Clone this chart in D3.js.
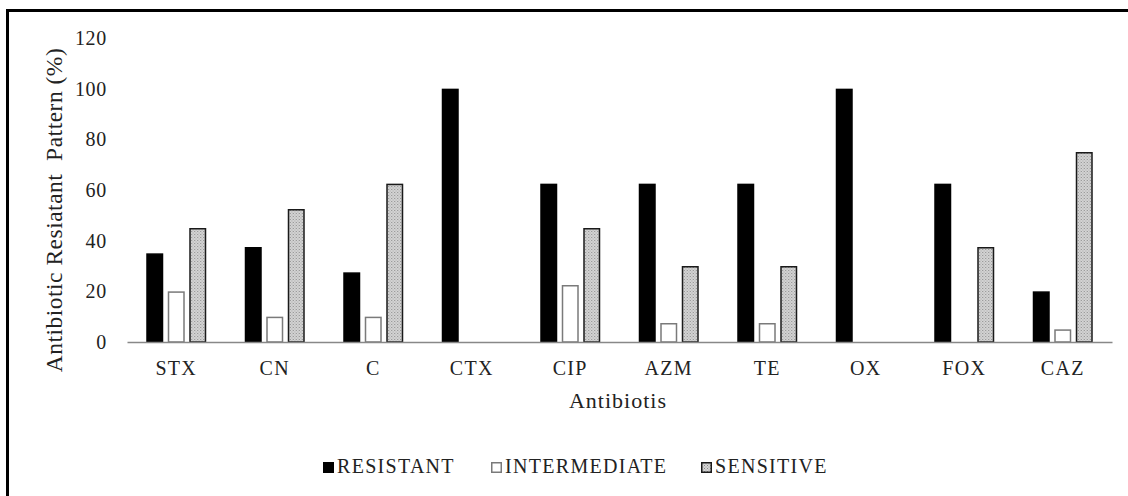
<!DOCTYPE html>
<html>
<head>
<meta charset="utf-8">
<script src="https://cdn.jsdelivr.net/npm/d3@7"></script>
<style>
  body { margin: 0; background: #fff; }
  svg text { font-family: "Liberation Serif", "Times New Roman", Tinos, "DejaVu Serif", serif; fill: #222; }
</style>
</head>
<body>
<svg id="chart" width="1128" height="496"></svg>
<script>
// data
var antibiotics = ["STX", "CN", "C", "CTX", "CIP", "AZM", "TE", "OX", "FOX", "CAZ"];
var resistant    = [35, 37.5, 27.5, 100, 62.5, 62.5, 62.5, 100, 62.5, 20];
var intermediate = [20, 10, 10, 0, 22.5, 7.5, 7.5, 0, 0, 5];
var sensitive    = [45, 52.5, 62.5, 0, 45, 30, 30, 0, 37.5, 75];
var seriesNames  = ["RESISTANT", "INTERMEDIATE", "SENSITIVE"];
var yTicks = [0, 20, 40, 60, 80, 100, 120];

var svg = d3.select("#chart");

// dotted grey pattern used for the sensitive bars
var defs = svg.append("defs");
var pat = defs.append("pattern").attr("id", "dots")
  .attr("patternUnits", "userSpaceOnUse").attr("width", 3).attr("height", 3);
pat.append("rect").attr("width", 3).attr("height", 3).attr("fill", "#d6d6d6");
pat.append("rect").attr("width", 1).attr("height", 1).attr("fill", "#888");
pat.append("rect").attr("x", 1.5).attr("y", 1.5).attr("width", 1).attr("height", 1).attr("fill", "#999");

// frame, only left and top edges show
svg.append("path").attr("d", "M7.5,496 V10.5 H1128")
  .attr("fill", "none").attr("stroke", "#000").attr("stroke-width", 3);

var margin = {left: 127, right: 1112, top: 38, bottom: 342};

var x = d3.scaleBand().domain(antibiotics).range([margin.left, margin.right]);
var y = d3.scaleLinear().domain([0, 120]).range([margin.bottom, margin.top]);

var barW = 17, gap = 4.5;

var table = antibiotics.map(function(a, i) {
  return {name: a, values: [resistant[i], intermediate[i], sensitive[i]]};
});

var styles = [
  {fill: "#000", stroke: "#000"},
  {fill: "#fff", stroke: "#7a7a7a"},
  {fill: "url(#dots)", stroke: "#1a1a1a"}
];

// bars
var groups = svg.append("g").selectAll("g").data(table).enter().append("g")
  .attr("transform", function(d) { return "translate(" + (x(d.name) + x.bandwidth() / 2) + ",0)"; });

groups.each(function(d) {
  var g = d3.select(this);
  d.values.forEach(function(v, j) {
    if (v <= 0) return;
    var offset = (j - 1) * (barW + gap) - barW / 2;
    g.append("rect")
      .attr("x", offset + 0.75)
      .attr("y", y(v) + 0.75)
      .attr("width", barW - 1.5)
      .attr("height", y(0) - y(v) - 0.75)
      .attr("fill", styles[j].fill)
      .attr("stroke", styles[j].stroke)
      .attr("stroke-width", 1.5);
  });
});

// y axis labels (no line)
var yAxis = svg.append("g").attr("transform", "translate(" + margin.left + ",0)")
  .call(d3.axisLeft(y).tickValues(yTicks).tickSize(0).tickPadding(20));
yAxis.select(".domain").remove();
yAxis.attr("font-family", null);
yAxis.selectAll("text").attr("font-size", 20)
  .style("letter-spacing", "0.7px").attr("fill", "#333");

// x axis
var xAxis = svg.append("g").attr("transform", "translate(0," + margin.bottom + ")")
  .call(d3.axisBottom(x).tickSize(0).tickPadding(19));
xAxis.attr("font-family", null);
xAxis.select(".domain").attr("stroke", "#888").attr("stroke-width", 1.5);
xAxis.selectAll("text").attr("font-size", 20)
  .style("letter-spacing", "1.3px").attr("fill", "#333");

// axis titles
svg.append("text").attr("x", 618).attr("y", 408).attr("text-anchor", "middle")
  .attr("font-size", 22).style("letter-spacing", "1px").text("Antibiotis");
svg.append("text").attr("transform", "translate(62,210) rotate(-90)").attr("text-anchor", "middle")
  .attr("font-size", 23.5).style("letter-spacing", "0.5px").style("white-space", "pre")
  .text("Antibiotic Resiatant  Pattern (%)");

// legend
var legendX = [323, 491, 701];
var legend = svg.append("g").selectAll("g").data(seriesNames).enter().append("g")
  .attr("transform", function(d, i) { return "translate(" + legendX[i] + ",462)"; });
legend.append("rect").attr("x", 0.75).attr("y", 0.75).attr("width", 9.5).attr("height", 9.5)
  .attr("fill", function(d, i) { return styles[i].fill; })
  .attr("stroke", function(d, i) { return styles[i].stroke; }).attr("stroke-width", 1.5);
legend.append("text").attr("x", 14).attr("y", 11).attr("font-size", 20)
  .style("letter-spacing", "1.3px")
  .text(function(d) { return d; });
</script>
</body>
</html>
